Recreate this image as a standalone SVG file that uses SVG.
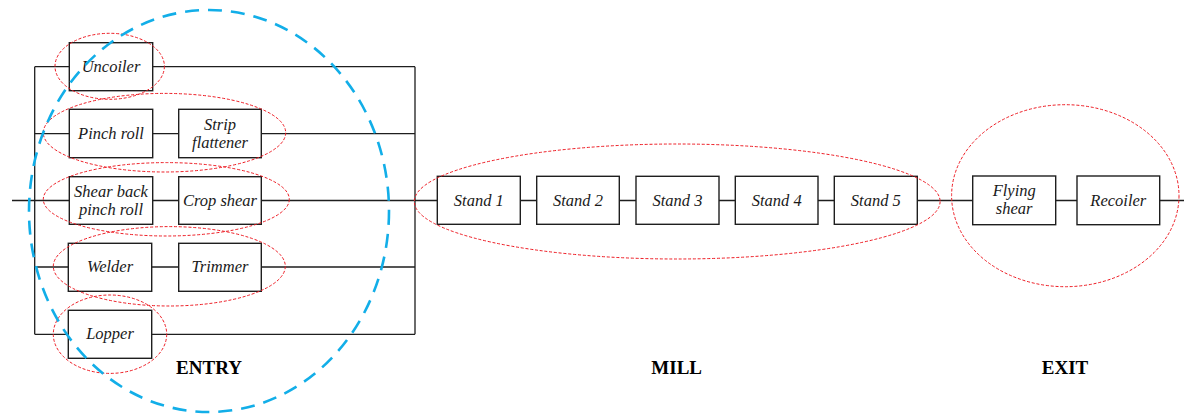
<svg xmlns="http://www.w3.org/2000/svg" width="1184" height="414" viewBox="0 0 1184 414">
<style>
.box{fill:#fff;stroke:#1e1e1e;stroke-width:1.4}
.ln{stroke:#1e1e1e;stroke-width:1.3;fill:none}
.t{font-family:"Liberation Serif","Times New Roman",serif;font-style:italic;font-size:16.5px;fill:#1a1a1a;text-anchor:middle}
.lbl{font-family:"Liberation Serif","Times New Roman",serif;font-weight:bold;font-size:19px;fill:#000;text-anchor:middle}
.red{fill:none;stroke:#ee1c24;stroke-width:1;stroke-dasharray:3 1.8}
.blue{fill:none;stroke:#12aee8;stroke-width:2.6;stroke-dasharray:14 9}
</style>
<g id="connectors">
<path class="ln" d="M12 200.5H69 M153 200.5H179 M261 200.5H437 M520 200.5H536.7 M619.3 200.5H636 M719 200.5H735.5 M818 200.5H834.5 M917.3 200.5H972.7 M1055.7 200.5H1077 M1159.7 200.5H1184"/>
<path class="ln" d="M34.7 66.7V334.3 M415 66.7V334.3"/>
<path class="ln" d="M34.7 66.7H69 M152.7 66.7H415"/>
<path class="ln" d="M34.7 133.7H69 M152.7 133.7H178.7 M261.3 133.7H415"/>
<path class="ln" d="M34.7 267H68.3 M151.7 267H178.7 M261.3 267H415"/>
<path class="ln" d="M34.7 334.3H68.3 M151.7 334.3H415"/>
</g>
<g id="uncoiler"><rect class="box" x="69.3" y="42.7" width="83.4" height="48"/><text class="t" x="111" y="71.7">Uncoiler</text></g>
<g id="pinch-roll"><rect class="box" x="69.3" y="109.3" width="83.4" height="48.4"/><text class="t" x="111" y="138.5">Pinch roll</text></g>
<g id="strip-flattener"><rect class="box" x="178.7" y="109.3" width="82.6" height="48.4"/><text class="t" x="220" y="129.5">Strip</text><text class="t" x="220" y="147.5">flattener</text></g>
<g id="shear-back-pinch-roll"><rect class="box" x="69.3" y="176.7" width="83.4" height="47.6"/><text class="t" x="111" y="196.5">Shear back</text><text class="t" x="111" y="214.5">pinch roll</text></g>
<g id="crop-shear"><rect class="box" x="178.7" y="176.7" width="82.6" height="47.6"/><text class="t" x="220" y="205.5">Crop shear</text></g>
<g id="welder"><rect class="box" x="68.3" y="243.3" width="83.4" height="48"/><text class="t" x="110" y="272">Welder</text></g>
<g id="trimmer"><rect class="box" x="178.7" y="243.3" width="82.6" height="48"/><text class="t" x="220" y="272">Trimmer</text></g>
<g id="lopper"><rect class="box" x="68.3" y="310.3" width="83.4" height="48"/><text class="t" x="110" y="339.3">Lopper</text></g>
<g id="stand1"><rect class="box" x="437.3" y="176.3" width="83" height="48"/><text class="t" x="478.8" y="205.5">Stand 1</text></g>
<g id="stand2"><rect class="box" x="536.7" y="176.3" width="82.6" height="48"/><text class="t" x="578" y="205.5">Stand 2</text></g>
<g id="stand3"><rect class="box" x="636" y="176.3" width="83" height="48"/><text class="t" x="677.5" y="205.5">Stand 3</text></g>
<g id="stand4"><rect class="box" x="735.3" y="176.3" width="82.7" height="48"/><text class="t" x="776.7" y="205.5">Stand 4</text></g>
<g id="stand5"><rect class="box" x="834.3" y="176.3" width="83" height="48"/><text class="t" x="875.8" y="205.5">Stand 5</text></g>
<g id="flying-shear"><rect class="box" x="972.7" y="176" width="83" height="48.7"/><text class="t" x="1014.2" y="196">Flying</text><text class="t" x="1014.2" y="214.3">shear</text></g>
<g id="recoiler"><rect class="box" x="1077" y="176" width="82.7" height="48.7"/><text class="t" x="1118.3" y="205.5">Recoiler</text></g>
<g id="groups">
<ellipse class="red" cx="109.7" cy="66.3" rx="54.7" ry="33"/>
<ellipse class="red" cx="164.5" cy="132.7" rx="121.2" ry="39.3"/>
<ellipse class="red" cx="166.3" cy="199.3" rx="123" ry="36.7"/>
<ellipse class="red" cx="169.3" cy="266.3" rx="116" ry="39.7"/>
<ellipse class="red" cx="110" cy="334.2" rx="56.7" ry="39.2"/>
<ellipse class="red" cx="677.2" cy="201.5" rx="262.9" ry="57.5"/>
<ellipse class="red" cx="1065.3" cy="195.7" rx="113.7" ry="91"/>
<ellipse class="blue" cx="209" cy="211" rx="180" ry="201"/>
</g>
<g id="labels">
<text class="lbl" x="209" y="374">ENTRY</text>
<text class="lbl" x="676.7" y="374">MILL</text>
<text class="lbl" x="1065" y="374">EXIT</text>
</g>
</svg>
